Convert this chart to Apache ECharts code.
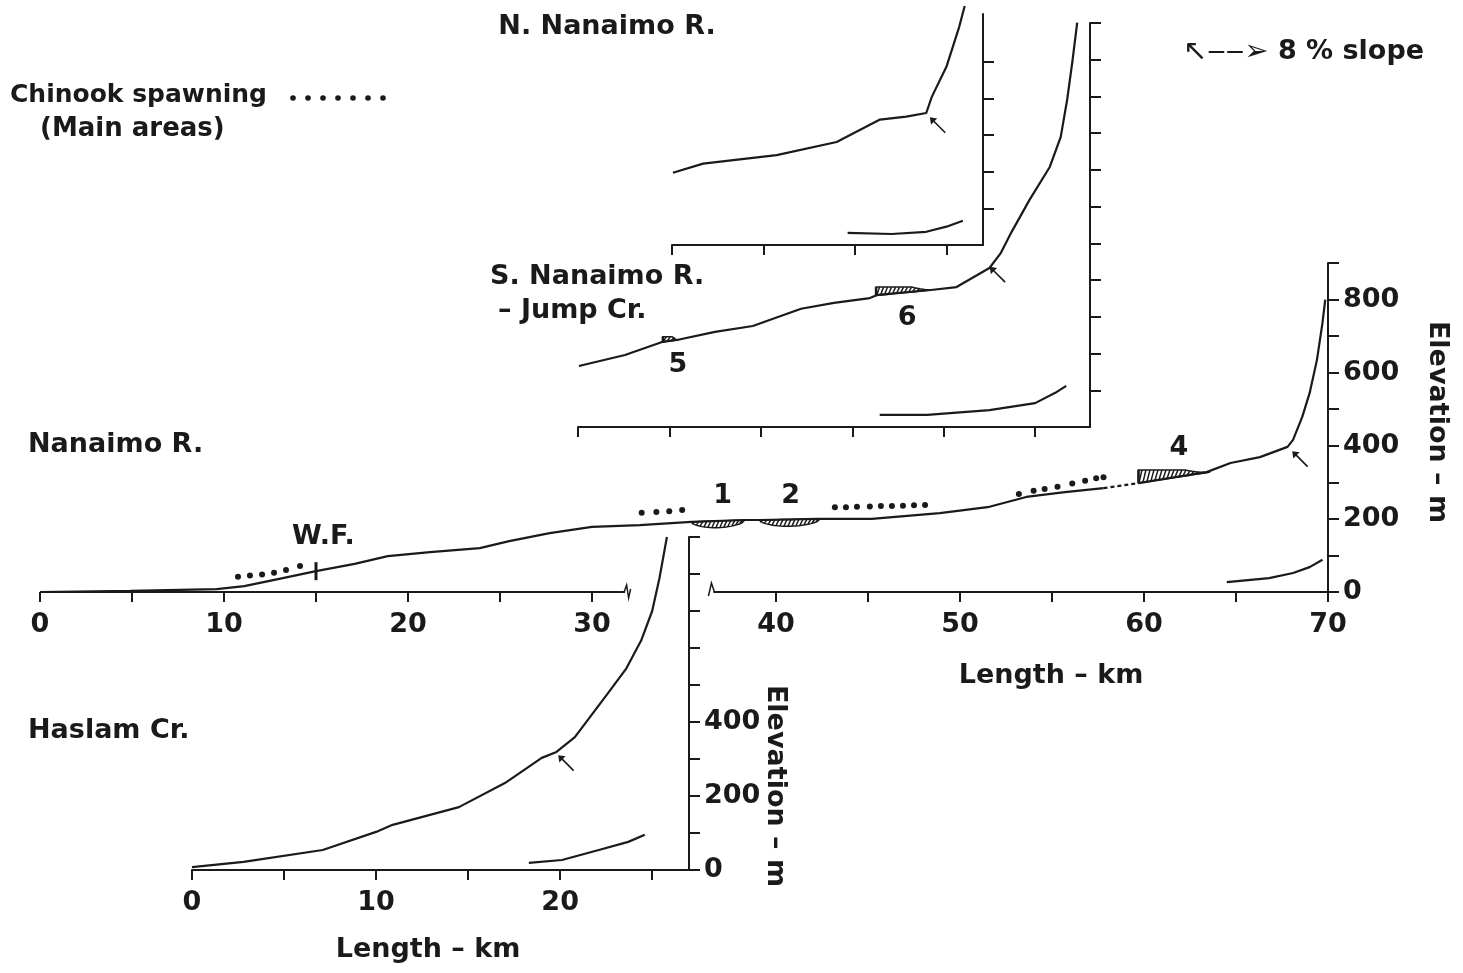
<!DOCTYPE html>
<html>
<head>
<meta charset="utf-8">
<style>
html, body { margin: 0; padding: 0; background: #fff; }
#chart { width: 1463px; height: 973px; }
</style>
<script src="https://cdn.jsdelivr.net/npm/echarts@6/dist/echarts.min.js"></script>
</head>
<body>
<div id="chart"></div>
<script>
// Nanaimo R. profile (km, m)
const mainProfileA = [[0,0],[4.9,3],[9.6,8],[11.1,16],[13,36],[15,57],[17.1,77],[18.9,98],[21.2,109],[23.9,120],[25.5,139],[27.7,161],[30,178],[32.6,183],[35.4,192],[38.3,197],[39.1,197],[42.3,200],[45.2,200],[48.9,216],[51.5,232],[53.6,260],[55.7,273],[57.8,284]]
const mainDashed = [[57.8,284],[59.7,298]]
const mainProfileB = [[59.7,298],[63.4,328],[64.7,353],[66.3,369],[67.8,397],[68.1,416],[68.6,479],[69,544],[69.4,635],[69.7,736],[69.85,800]]
const mainInset = [[64.5,27],[66.8,38],[68.1,52],[69,68],[69.7,88]]
const mainSpawning = [
  [10.76,42],[11.41,45],[12.07,48],[12.72,53],[13.37,60],[14.13,71],
  [32.7,217],[33.5,219],[34.2,221],[34.9,224],
  [43.2,232],[43.8,232],[44.4,233],[45.1,234],[45.7,235],[46.3,235],[46.9,236],[47.5,237],[48.1,238],
  [53.2,268],[54,277],[54.6,282],[55.3,288],[56.1,297],[56.8,304],[57.4,311],[57.8,314]
]
// [start km, end km, elev at start, elev at end, edge elev]
const mainZones = [[35.4,38.3,192,197,176],[39.1,42.4,197,200,180],[59.7,63.6,298,328,334]]
const mainLabels = [{ name: 'W.F.', value: [15.4,150] },{ name: '1', value: [37.1,262] },{ name: '2', value: [40.8,262] },{ name: '4', value: [61.9,394] }]
const mainFalls = [[15,57]]
const mainArrow = [[68.0,388]]
const mainAxisSegments = [[0,31.8],[36.6,70]]
const mainXTicks = [0,5,10,15,20,25,30,40,45,50,55,60,65,70]
const mainXLabels = [0,10,20,30,40,50,60,70]
const mainYTicks = [0,100,200,300,400,500,600,700,800,900]
const mainYLabels = [0,200,400,600,800]

// Haslam Cr.
const haslamProfile = [[0,8],[2.8,22],[7.1,54],[10,103],[10.9,122],[14.5,170],[17,235],[19,303],[19.8,319],[20.8,359],[22.6,478],[23.6,545],[24.4,620],[25,700],[25.4,790],[25.8,900]]
const haslamInset = [[18.3,19],[20.1,27],[22.1,54],[23.7,76],[24.6,95]]
const haslamArrow = [[19.84,313]]
const haslamXTicks = [0,5,10,15,20,25]
const haslamXLabels = [0,10,20]
const haslamYTicks = [0,100,200,300,400,500,600,700,800,900]
const haslamYLabels = [0,200,400]

// S. Nanaimo R. - Jump Cr.
const southProfile = [[0.05,166],[2.57,196],[4.64,232],[5.41,237],[7.49,259],[9.56,275],[12.2,322],[14,338],[15.96,351],[16.4,360],[19.3,373],[20.7,381],[22.5,433],[23.1,472],[23.7,530],[24.7,619],[25.8,708],[26.4,790],[26.75,891],[27.05,1000],[27.3,1101]]
const southInset = [[16.5,33],[19.1,33],[22.5,46],[25,65],[26.1,93],[26.7,112]]
const southZones = [[4.64,5.41,232,237,246],[16.3,19.3,358,373,381]]
const southLabels = [{ name: '5', value: [5.46,170] },{ name: '6', value: [18.0,298] }]
const southArrow = [[22.46,439]]
const southXTicks = [0,5,10,15,20,25]
const southYTicks = [100,200,300,400,500,600,700,800,900,1000,1100]

// N. Nanaimo R.
const northProfile = [[0.05,197],[1.7,222],[5.72,245],[9,281],[11.37,342],[12.8,350],[13.9,360],[14.2,404],[15,486],[15.7,595],[16,652]]
const northInset = [[9.6,33],[12,30],[13.9,36],[15,50],[15.9,66]]
const northArrow = [[14.04,351]]
const northXTicks = [0,5,10,15]
const northYTicks = [100,200,300,400,500]

const ink = '#1a1a1a'
const fam = '"DejaVu Sans", sans-serif'
const txt = { fontSize: 27, fontWeight: 'bold', fontFamily: fam, color: ink }
const arrowPath = 'path://M0,0 L6.5,1 L4.2,3.2 L14,13 L13,14 L3.2,4.2 L1,6.5 Z'

function line(data, g, dashed) {
  return {
    type: 'line', xAxisIndex: g, yAxisIndex: g, data: data, showSymbol: false, clip: false,
    silent: true, animation: false, z: 3,
    lineStyle: { color: ink, width: 2.2, type: dashed ? [4, 3] : 'solid' }
  }
}

function dots(data, g) {
  return { type: 'scatter', xAxisIndex: g, yAxisIndex: g, data: data, symbolSize: 6, clip: false,
    itemStyle: { color: ink, opacity: 1 }, silent: true, animation: false }
}

function arrows(data, g) {
  return { type: 'scatter', xAxisIndex: g, yAxisIndex: g, data: data, symbol: arrowPath,
    symbolSize: 16, symbolOffset: [9, 9], clip: false, itemStyle: { color: ink, opacity: 1 }, silent: true, animation: false }
}

function labels(data, g) {
  return { type: 'scatter', xAxisIndex: g, yAxisIndex: g, data: data, symbolSize: 0, clip: false,
    itemStyle: { opacity: 1 },
    label: { show: true, position: 'inside', formatter: '{b}', opacity: 1, ...txt }, silent: true, animation: false }
}

function renderZone(params, api) {
  const a = api.coord([api.value(0), api.value(2)])
  const b = api.coord([api.value(1), api.value(3)])
  const e = api.coord([api.value(0), api.value(4)])[1]
  const mid = (a[1] + b[1]) / 2
  const lens = e > mid
  const lineAt = t => a[1] + (b[1] - a[1]) * t
  const edgeAt = t => lens
    ? lineAt(t) + (e - mid) * Math.pow(Math.sin(Math.PI * t), 0.5)
    : (t < 0.65 ? e : e + (lineAt(t) - e) * (t - 0.65) / 0.35)
  const pts = []
  for (let i = 0; i <= 20; i++) pts.push([a[0] + (b[0] - a[0]) * i / 20, lineAt(i / 20)])
  for (let i = 20; i >= 0; i--) pts.push([a[0] + (b[0] - a[0]) * i / 20, edgeAt(i / 20)])
  const children = [{ type: 'polygon', shape: { points: pts }, style: { fill: 'none', stroke: ink, lineWidth: 1.5 } }]
  for (let x = a[0] + 2; x < b[0] - 1; x += 4) {
    const t = (x - a[0]) / (b[0] - a[0])
    const lo = Math.max(lineAt(t), edgeAt(t)), hi = Math.min(lineAt(t), edgeAt(t))
    if (lo - hi < 1.5) continue
    children.push({ type: 'line', shape: { x1: x - 1.5, y1: lo, x2: x + 1.5, y2: hi }, style: { stroke: ink, lineWidth: 1.5 } })
  }
  if (!lens) children.push({ type: 'line', shape: { x1: a[0], y1: a[1], x2: a[0], y2: e }, style: { stroke: ink, lineWidth: 2.5 } })
  return { type: 'group', children: children }
}

function zones(data, g) {
  return { type: 'custom', xAxisIndex: g, yAxisIndex: g, data: data, renderItem: renderZone,
    clip: false, silent: true, animation: false, z: 4 }
}

function renderBreak(params, api) {
  const p = api.coord([api.value(0), 0])
  const pts = params.dataIndex === 0
    ? [[p[0] - 1, p[1]], [p[0] + 1.5, p[1] - 7], [p[0] + 3.5, p[1] + 6], [p[0] + 5.5, p[1] - 3]]
    : [[p[0] - 5, p[1] + 4], [p[0] - 2, p[1] - 9], [p[0] + 1, p[1]]]
  return { type: 'polyline', shape: { points: pts }, style: { stroke: ink, lineWidth: 1.5, fill: 'none' } }
}

function xAx(g, max, ticks, labs) {
  return {
    gridIndex: g, type: 'value', min: 0, max: max, splitLine: { show: false },
    axisLine: { show: g !== 0, onZero: false, lineStyle: { color: ink, width: 2 } },
    axisTick: { show: true, length: 10, customValues: ticks, lineStyle: { color: ink, width: 2 } },
    axisLabel: { show: !!labs, customValues: labs || [], margin: 19, ...txt }
  }
}

function yAx(g, max, ticks, labs) {
  return {
    gridIndex: g, type: 'value', position: 'right', min: 0, max: max, splitLine: { show: false },
    axisLine: { show: true, onZero: false, lineStyle: { color: ink, width: 2 } },
    axisTick: { show: true, length: 11, customValues: ticks, lineStyle: { color: ink, width: 2 } },
    axisLabel: { show: !!labs, customValues: labs || [], margin: 15, ...txt }
  }
}

const mainAxisLines = mainAxisSegments.map(s => line([[s[0], 0], [s[1], 0]], 0))

function text(str, x, y, align, rot, size) {
  return { type: 'text', x: x, y: y, rotation: rot || 0, silent: true,
    style: { text: str, align: align || 'left', verticalAlign: 'middle', fill: ink,
      font: 'bold ' + (size || 27) + 'px ' + fam } }
}

const legendDots = []
for (let i = 0; i < 7; i++) legendDots.push({ type: 'circle', shape: { cx: 293 + i * 15, cy: 98, r: 2.8 }, style: { fill: ink }, silent: true })

const chart = echarts.init(document.getElementById('chart'), null, { renderer: 'canvas' })
chart.setOption({
  backgroundColor: '#fff',
  animation: false,
  grid: [
    { left: 40, top: 263, width: 1288, height: 329, outerBoundsMode: 'none' },
    { left: 192, top: 537, width: 497, height: 333, outerBoundsMode: 'none' },
    { left: 578, top: 23, width: 512, height: 404, outerBoundsMode: 'none' },
    { left: 672, top: 14, width: 311, height: 231, outerBoundsMode: 'none' }
  ],
  xAxis: [
    xAx(0, 70, mainXTicks, mainXLabels),
    xAx(1, 27, haslamXTicks, haslamXLabels),
    xAx(2, 28, southXTicks, null),
    xAx(3, 17, northXTicks, null)
  ],
  yAxis: [
    yAx(0, 900, mainYTicks, mainYLabels),
    yAx(1, 900, haslamYTicks, haslamYLabels),
    yAx(2, 1100, southYTicks, null),
    yAx(3, 630, northYTicks, null)
  ],
  graphic: [
    text('N. Nanaimo R.', 607, 27, 'center'),
    text('Chinook spawning', 10, 95, 'left', 0, 25),
    text('(Main areas)', 40, 129, 'left', 0, 26),
    ...legendDots,
    { type: 'text', x: 1183, y: 52, silent: true, style: {
      text: '{a|↖‒‒➢} 8 % slope', verticalAlign: 'middle', fill: ink, font: 'bold 27px ' + fam,
      rich: { a: { fontSize: 29, fontWeight: 'normal', fontFamily: fam, fill: ink } } } },
    text('S. Nanaimo R.', 490, 277),
    text('– Jump Cr.', 498, 311),
    text('Nanaimo R.', 28, 445),
    text('Haslam Cr.', 28, 731),
    text('Length – km', 1051, 676, 'center'),
    text('Length – km', 428, 950, 'center'),
    text('Elevation – m', 1437, 422, 'center', -Math.PI / 2),
    text('Elevation – m', 775, 786, 'center', -Math.PI / 2)
  ],
  series: [
    ...mainAxisLines,
    { type: 'custom', xAxisIndex: 0, yAxisIndex: 0, data: mainAxisSegments.map(s => [s[0] === 0 ? s[1] : s[0]]),
      renderItem: renderBreak, clip: false, silent: true, animation: false },
    line(mainProfileA, 0),
    line(mainDashed, 0, true),
    line(mainProfileB, 0),
    line(mainInset, 0),
    dots(mainSpawning, 0),
    zones(mainZones, 0),
    labels(mainLabels, 0),
    { type: 'scatter', xAxisIndex: 0, yAxisIndex: 0, data: mainFalls, symbol: 'rect', symbolSize: [3, 18],
      itemStyle: { color: ink, opacity: 1 }, silent: true, animation: false },
    arrows(mainArrow, 0),
    line(haslamProfile, 1),
    line(haslamInset, 1),
    arrows(haslamArrow, 1),
    line(southProfile, 2),
    line(southInset, 2),
    zones(southZones, 2),
    labels(southLabels, 2),
    arrows(southArrow, 2),
    line(northProfile, 3),
    line(northInset, 3),
    arrows(northArrow, 3)
  ]
})
</script>
</body>
</html>
